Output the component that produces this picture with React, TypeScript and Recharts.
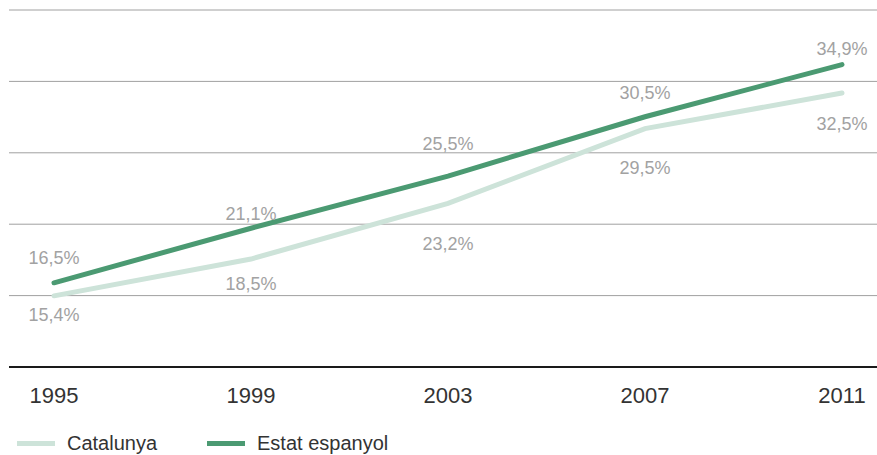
import React from 'react';
import { LineChart, Line, XAxis, YAxis, CartesianGrid, LabelList, Legend } from 'recharts';

const years = ['1995', '1999', '2003', '2007', '2011'];
const catalunya = [15.4, 18.5, 23.2, 29.5, 32.5];
const estat = [16.5, 21.1, 25.5, 30.5, 34.9];
const yTicks = [9.4, 15.42, 21.44, 27.46, 33.48, 39.5];
const seriesNames = ['Catalunya', 'Estat espanyol'];

const data = years.map((year, i) => ({ year, catalunya: catalunya[i], estat: estat[i] }));

const COLOR_CAT = '#cde3d9';
const COLOR_EST = '#4b9a72';
const FONT = '"Liberation Sans", Arial, Helvetica, sans-serif';

// label offsets (style only)
const estatLabelDy = [-25, -15, -33, -24, -16];
const catLabelDy = [19, 24, 40, 39, 30];

const fmt = (v: number) => v.toFixed(1).replace('.', ',') + '%';

const makeLabel = (offsets: number[]) => (props: any) => {
  const { x, y, value, index } = props;
  return (
    <text
      x={x}
      y={y + offsets[index]}
      dy="0.36em"
      textAnchor="middle"
      fill="#a2a2a2"
      fontSize={18}
      fontFamily={FONT}
    >
      {fmt(value)}
    </text>
  );
};

const LegendContent = () => {
  const colors = [COLOR_CAT, COLOR_EST];
  return (
    <div style={{ display: 'flex', alignItems: 'center', height: 26, fontFamily: FONT }}>
      {seriesNames.map((name, i) => (
        <div key={name} style={{ display: 'flex', alignItems: 'center', width: i === 0 ? 190 : 'auto' }}>
          <div style={{ width: 38, height: 5, background: colors[i], marginRight: 12 }} />
          <span style={{ fontSize: 20, color: '#333' }}>{name}</span>
        </div>
      ))}
    </div>
  );
};

export default function App() {
  return (
    <div style={{ position: 'absolute', left: 0, top: 0, background: '#fff' }}>
      <LineChart width={877} height={455} data={data} margin={{ top: 10, right: 0, left: 9, bottom: 12 }}>
        <CartesianGrid vertical={false} stroke="#a0a0a0" strokeWidth={1} />
        <XAxis
          dataKey="year"
          padding={{ left: 45, right: 35 }}
          tickLine={false}
          axisLine={{ stroke: '#1a1a1a', strokeWidth: 2 }}
          tick={{ fill: '#333', fontSize: 22, fontFamily: FONT }}
          tickMargin={14}
          height={50}
        />
        <YAxis hide domain={[9.4, 39.5]} ticks={yTicks} type="number" />
        <Legend
          verticalAlign="bottom"
          align="left"
          content={<LegendContent />}
          wrapperStyle={{ left: 17, top: 430, width: 500, height: 26 }}
        />
        <Line
          dataKey="catalunya"
          name={seriesNames[0]}
          stroke={COLOR_CAT}
          strokeWidth={5}
          strokeLinecap="round"
          dot={false}
          activeDot={false}
          isAnimationActive={false}
        >
          <LabelList dataKey="catalunya" content={makeLabel(catLabelDy)} />
        </Line>
        <Line
          dataKey="estat"
          name={seriesNames[1]}
          stroke={COLOR_EST}
          strokeWidth={5}
          strokeLinecap="round"
          dot={false}
          activeDot={false}
          isAnimationActive={false}
        >
          <LabelList dataKey="estat" content={makeLabel(estatLabelDy)} />
        </Line>
      </LineChart>
    </div>
  );
}
